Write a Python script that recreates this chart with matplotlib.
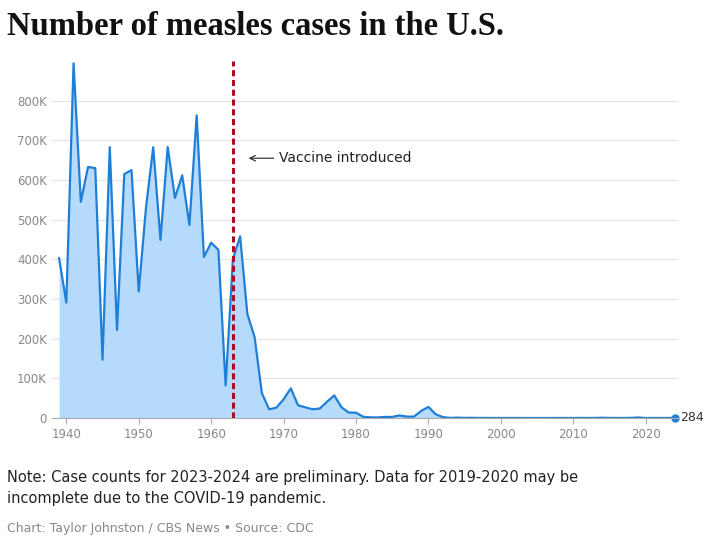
import matplotlib.pyplot as plt
from matplotlib.ticker import FuncFormatter

years = list(range(1939, 2025))
cases = [403000, 291000, 894000, 545000, 633000, 630000, 147000, 683000, 222000, 615000,
         625000, 319000, 530000, 683000, 449000, 683000, 555000, 612000, 487000, 763000,
         406000, 442000, 424000, 82000, 400000, 458000, 262000, 204000, 63000, 22000,
         26000, 47000, 75000, 32000, 27000, 22000, 24000, 41000, 57000, 27000,
         13600, 13500, 3100, 1700, 1500, 2600, 2800, 6300, 3600, 3400,
         18000, 28000, 9600, 2200, 312, 963, 309, 508, 138, 100,
         100, 86, 116, 44, 56, 66, 37, 55, 43, 140,
         71, 63, 220, 55, 187, 667, 188, 86, 120, 375,
         1274, 13, 49, 121, 59, 284]

blue = "#1f7fd6"
fig = plt.figure(figsize=(7.2, 5.45), dpi=100)
ax = fig.add_axes([0.072, 0.233, 0.87, 0.655])

ax.fill_between(years, cases, color="#b5dafb", lw=0)
ax.plot(years, cases, color=blue, lw=1.6)
ax.plot(years[-1], cases[-1], "o", color=blue, ms=5, clip_on=False)
ax.text(years[-1] + 0.8, cases[-1], "284", va="center", fontsize=9, color="#333")

ax.axvline(1963, color="#a3121c", ls=(0, (2, 1.2)), lw=2.2)
ax.annotate("Vaccine introduced", xy=(1964.8, 655000), xytext=(1969.4, 655000),
            va="center", fontsize=10, color="#222",
            arrowprops=dict(arrowstyle="->", color="#222", lw=0.8))

ax.set_xlim(1938, 2024.5)
ax.set_ylim(0, 900000)
ax.set_xticks(range(1940, 2021, 10))
ax.set_yticks(range(0, 800001, 100000))
ax.yaxis.set_major_formatter(FuncFormatter(lambda v, p: "0" if v == 0 else f"{int(v/1000)}K"))
ax.tick_params(labelsize=8.5, colors="#888", length=0)
ax.tick_params(axis="x", length=4, color="#aaa")
ax.grid(axis="y", color="#e3e3e3", lw=0.8)
ax.set_axisbelow(True)
for s in ax.spines.values():
    s.set_visible(False)
ax.spines["bottom"].set_visible(True)
ax.spines["bottom"].set_color("#aaa")

fig.text(0.01, 0.935, "Number of measles cases in the U.S.", fontsize=23.5,
         fontweight="bold", family="Liberation Serif", color="#111")
fig.text(0.01, 0.105, "Note: Case counts for 2023-2024 are preliminary. Data for 2019-2020 may be\n"
         "incomplete due to the COVID-19 pandemic.", fontsize=10.5, color="#222",
         va="center", linespacing=1.5)
fig.text(0.01, 0.03, "Chart: Taylor Johnston / CBS News \u2022 Source: CDC", fontsize=9,
         color="#888", va="center")

fig.savefig("out.png")
